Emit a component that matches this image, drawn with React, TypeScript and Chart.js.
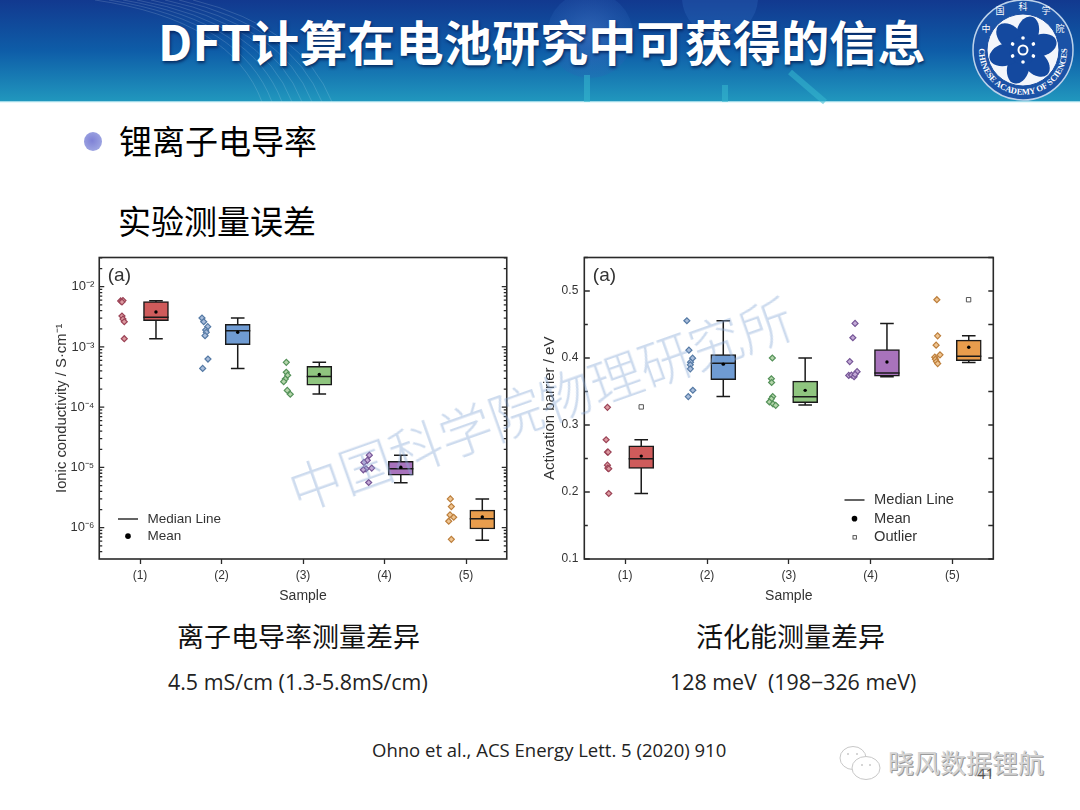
import React, { useEffect, useRef } from "react";
import { Chart, registerables } from "chart.js";

Chart.register(...registerables);

// ---------- data: ionic conductivity (S/cm) ----------
const sampleTicks = [1, 2, 3, 4, 5];
const sampleLabels = ["(1)", "(2)", "(3)", "(4)", "(5)"];
const boxPositions = [1.196, 2.199, 3.2, 4.2, 5.2];

const condQ1 = [2.73e-3, 1.09e-3, 2.31e-4, 7.45e-6, 9.5e-7];
const condQ3 = [5.64e-3, 2.37e-3, 4.77e-4, 1.26e-5, 1.95e-6];
const condMedian = [3.1e-3, 1.86e-3, 3.22e-4, 9.5e-6, 1.41e-6];
const condMean = [3.8e-3, 1.75e-3, 3.48e-4, 1.01e-5, 1.51e-6];
const condLow = [1.37e-3, 4.4e-4, 1.66e-4, 5.55e-6, 6.2e-7];
const condHigh = [5.86e-3, 3.02e-3, 5.56e-4, 1.6e-5, 3.0e-6];

const condRawX = [
  [0.763, 0.791, 0.779, 0.779, 0.791, 0.807, 0.807],
  [1.761, 1.782, 1.831, 1.806, 1.813, 1.798, 1.834, 1.769],
  [2.795, 2.795, 2.812, 2.783, 2.763, 2.807, 2.844],
  [3.814, 3.789, 3.748, 3.773, 3.74, 3.843, 3.806],
  [4.808, 4.82, 4.804, 4.849, 4.788, 4.82],
];
const condRawY = [
  [5.8e-3, 5.9e-3, 5.57e-3, 3.26e-3, 2.9e-3, 2.62e-3, 1.37e-3],
  [3.02e-3, 2.62e-3, 2.17e-3, 1.91e-3, 1.75e-3, 1.54e-3, 6.3e-4, 4.4e-4],
  [5.56e-4, 3.8e-4, 3.39e-4, 2.94e-4, 2.65e-4, 1.9e-4, 1.64e-4],
  [1.6e-5, 1.31e-5, 1.21e-5, 9.5e-6, 9.14e-6, 9.75e-6, 5.62e-6],
  [3.0e-6, 2.24e-6, 1.63e-6, 1.49e-6, 1.28e-6, 6.4e-7],
];
const condDecades = [-7, -6, -5, -4, -3, -2];
const condMantissas = [1, 2, 3, 4, 5, 6, 7, 8, 9];

// ---------- data: activation barrier (eV) ----------
const barrierQ1 = [0.2352, 0.3678, 0.3333, 0.373, 0.3961];
const barrierQ3 = [0.269, 0.4052, 0.3656, 0.4125, 0.4266];
const barrierMedian = [0.2496, 0.3923, 0.3422, 0.3775, 0.4026];
const barrierMean = [0.2536, 0.3908, 0.3517, 0.394, 0.416];
const barrierLow = [0.1978, 0.3424, 0.3298, 0.372, 0.3931];
const barrierHigh = [0.278, 0.4556, 0.4, 0.4516, 0.4331];
const barrierOutlierX = [1.196, 5.198];
const barrierOutlierY = [0.327, 0.487];

const barrierRawX = [
  [0.783, 0.767, 0.783, 0.791, 0.783, 0.787, 0.799, 0.799],
  [1.754, 1.779, 1.824, 1.799, 1.796, 1.796, 1.827, 1.771],
  [2.799, 2.787, 2.79, 2.803, 2.787, 2.763, 2.807, 2.84],
  [3.81, 3.783, 3.745, 3.835, 3.733, 3.766, 3.798, 3.81],
  [4.81, 4.819, 4.801, 4.848, 4.785, 4.793, 4.805, 4.82],
];
const barrierRawY = [
  [0.3264, 0.278, 0.2596, 0.2596, 0.24, 0.2357, 0.2347, 0.1978],
  [0.4556, 0.4117, 0.3998, 0.3938, 0.3898, 0.3838, 0.3519, 0.3424],
  [0.4, 0.369, 0.3634, 0.3424, 0.339, 0.3344, 0.3314, 0.3294],
  [0.4516, 0.4302, 0.3946, 0.3796, 0.374, 0.3746, 0.372, 0.3756],
  [0.487, 0.4331, 0.4192, 0.4047, 0.4012, 0.3982, 0.3947, 0.3917],
];
const barrierMajorTicks = [0.1, 0.2, 0.3, 0.4, 0.5];
const barrierMinorTicks = [0.15, 0.25, 0.35, 0.45, 0.55];

// ---------- text ----------
const titleText = "DFT计算在电池研究中可获得的信息";
const bulletText = "锂离子电导率";
const subHeadText = "实验测量误差";
const leftCaption = "离子电导率测量差异";
const leftValue = "4.5 mS/cm (1.3-5.8mS/cm)";
const rightCaption = "活化能测量差异";
const rightValue = "128 meV  (198−326 meV)";
const citation = "Ohno et al., ACS Energy Lett. 5 (2020) 910";
const watermark = "中国科学院物理研究所";
const wechatName = "晓风数据锂航";

// ---------- styles ----------
const boxColors = ["#cf5b5b", "#6f9bd2", "#8fc57f", "#a873bc", "#e89d4d"];
const dotFills = ["#dc9aa0", "#a9bddb", "#b5d6ab", "#c3aad6", "#efc592"];
const dotEdges = ["#9c4457", "#557aa5", "#55925a", "#755596", "#bd7f3c"];
const INK = "#1a1a1a";
const TEXT = "#333";
const FONT = '"Liberation Sans", Arial, sans-serif';
const CJK = '"Noto Sans CJK SC", sans-serif';
const LATIN = '"Open Sans", "Noto Sans", sans-serif';

const SUP: Record<string, string> = { "-": "⁻", "0": "⁰", "1": "¹", "2": "²", "3": "³", "4": "⁴", "5": "⁵", "6": "⁶" };

type Stats = { q1: number[]; q3: number[]; median: number[]; mean: number[]; low: number[]; high: number[]; rawX: number[][]; rawY: number[][]; };

function buildDatasets(s: Stats, outliers?: { x: number[]; y: number[] }) {
  const ds: any[] = [];
  boxPositions.forEach((x, i) => {
    ds.push({ type: "scatter", order: 9, data: s.rawX[i].map((px, j) => ({ x: px, y: s.rawY[i][j] })), pointStyle: "rectRot", pointRadius: 3, pointBackgroundColor: dotFills[i], pointBorderColor: dotEdges[i], pointBorderWidth: 1.2 });
    ds.push({ type: "line", order: 8, data: [{ x, y: s.low[i] }, { x, y: s.high[i] }], borderColor: INK, borderWidth: 1.5, pointRadius: 0, tension: 0 });
  });
  ds.push({ type: "bar", order: 5, data: boxPositions.map((x, i) => ({ x, y: [s.q1[i], s.q3[i]] })), backgroundColor: boxColors, borderColor: INK, borderWidth: 1.5, borderSkipped: false, barThickness: 25, grouped: false });
  const whisk = (vals: number[], r: number, order: number) => ({ type: "scatter", order, data: boxPositions.map((x, i) => ({ x, y: vals[i] })), pointStyle: "line", pointRadius: r, pointBorderColor: INK, pointBorderWidth: 1.5 });
  ds.push(whisk(s.low, 6.8, 4));
  ds.push(whisk(s.high, 6.8, 4));
  ds.push(whisk(s.median, 12.6, 3));
  ds.push({ type: "scatter", order: 2, data: boxPositions.map((x, i) => ({ x, y: s.mean[i] })), pointStyle: "circle", pointRadius: 1.7, pointBackgroundColor: "#000", pointBorderWidth: 0 });
  if (outliers) {
    ds.push({ type: "scatter", order: 2, data: outliers.x.map((x, i) => ({ x, y: outliers.y[i] })), pointStyle: "rect", pointRadius: 3.1, pointBackgroundColor: "#fff", pointBorderColor: "#444", pointBorderWidth: 0.9 });
  }
  return ds;
}

const framePlugin = (cfg: { majorLen: number; minorLen: number; isMajor: (v: number) => boolean; rightLen?: number; legendX: number; legendY: number; legendFont: number; outlier: boolean; }) => ({
  id: "frameAndNotes",
  afterDraw(chart: any) {
    const { ctx, chartArea: a, scales } = chart;
    ctx.save();
    ctx.strokeStyle = "#2a2a2a";
    ctx.lineWidth = 1.6;
    ctx.strokeRect(a.left, a.top, a.right - a.left, a.bottom - a.top);
    ctx.lineWidth = 1.3;
    ctx.beginPath();
    for (const t of scales.y.ticks) {
      const y = scales.y.getPixelForValue(t.value);
      if (y < a.top || y > a.bottom) continue;
      const len = cfg.isMajor(t.value) ? cfg.majorLen : cfg.minorLen;
      const rlen = cfg.rightLen ?? len;
      ctx.moveTo(a.left, y);
      ctx.lineTo(a.left + len, y);
      ctx.moveTo(a.right, y);
      ctx.lineTo(a.right - rlen, y);
    }
    ctx.stroke();
    ctx.fillStyle = TEXT;
    ctx.textBaseline = "middle";
    ctx.font = `19px ${FONT}`;
    ctx.fillText("(a)", a.left + 8.5, a.top + 18.5);
    // legend
    const { legendX: lx, legendY: ly, legendFont: lf } = cfg;
    const gap = lf * 1.27;
    ctx.font = `${lf}px ${FONT}`;
    ctx.strokeStyle = "#222";
    ctx.lineWidth = 1.4;
    ctx.beginPath();
    ctx.moveTo(lx, ly);
    ctx.lineTo(lx + 20, ly);
    ctx.stroke();
    ctx.fillText("Median Line", lx + 29.5, ly);
    ctx.fillStyle = "#000";
    ctx.beginPath();
    ctx.arc(lx + 10, ly + gap, 2.8, 0, Math.PI * 2);
    ctx.fill();
    ctx.fillStyle = TEXT;
    ctx.fillText("Mean", lx + 29.5, ly + gap);
    if (cfg.outlier) {
      ctx.strokeStyle = "#444";
      ctx.lineWidth = 0.9;
      ctx.strokeRect(lx + 8.5, ly + 2 * gap - 1.7, 3.4, 3.4);
      ctx.fillText("Outlier", lx + 29.5, ly + 2 * gap);
    }
    ctx.restore();
  },
});

function xScale() {
  return {
    type: "linear",
    offset: false,
    min: 0.5,
    max: 5.5,
    afterBuildTicks: (s: any) => { s.ticks = sampleTicks.map((value) => ({ value })); },
    grid: { drawOnChartArea: false, offset: false, drawTicks: true, tickLength: 5, tickWidth: 1.3, tickColor: "#2a2a2a" },
    border: { display: false },
    ticks: { color: TEXT, font: { family: FONT, size: 12 }, padding: 4, maxRotation: 0, autoSkip: false, callback: (v: number) => sampleLabels[sampleTicks.indexOf(v)] ?? "" },
    title: { display: true, text: "Sample", color: TEXT, font: { family: FONT, size: 14 }, padding: { top: 0, bottom: 5 } },
    afterFit: (s: any) => { s.height = 51; s.paddingLeft = 0; s.paddingRight = 0; },
  };
}

function useChart(make: (c: HTMLCanvasElement) => Chart) {
  const ref = useRef<HTMLCanvasElement>(null);
  useEffect(() => {
    const chart = make(ref.current!);
    return () => chart.destroy();
  }, []);
  return ref;
}

const isPowerOfTen = (v: number) => Math.abs(Math.log10(v) - Math.round(Math.log10(v))) < 1e-6;
const condMin = Math.pow(10, -6.52);
const condMax = Math.pow(10, -1.515);

function makeConductivity(canvas: HTMLCanvasElement) {
  return new Chart(canvas, {
    type: "bar",
    data: { datasets: buildDatasets({ q1: condQ1, q3: condQ3, median: condMedian, mean: condMean, low: condLow, high: condHigh, rawX: condRawX, rawY: condRawY }) as any },
    plugins: [framePlugin({ majorLen: 5, minorLen: 3, isMajor: isPowerOfTen, legendX: 78, legendY: 269, legendFont: 13.5, outlier: false })],
    options: {
      animation: false,
      responsive: false,
      devicePixelRatio: 1,
      layout: { autoPadding: false, padding: { left: 0, top: 7.5, right: 13.25, bottom: 0 } },
      plugins: { legend: { display: false }, tooltip: { enabled: false } },
      scales: {
        x: xScale(),
        y: {
          type: "logarithmic",
          min: condMin,
          max: condMax,
          afterBuildTicks: (s: any) => {
            s.ticks = condDecades
              .flatMap((e) => condMantissas.map((m) => m * Math.pow(10, e)))
              .filter((value) => value >= condMin && value <= condMax)
              .map((value) => ({ value }));
          },
          grid: { display: false, drawTicks: false },
          border: { display: false },
          ticks: {
            color: TEXT,
            font: { family: FONT, size: 13 },
            padding: 5,
            autoSkip: false,
            maxRotation: 0,
            callback: (v: number) => {
              if (!isPowerOfTen(v)) return "";
              const e = String(Math.round(Math.log10(v)));
              return "10" + e.split("").map((c) => SUP[c]).join("");
            },
          },
          title: { display: true, text: "Ionic conductivity / S·cm⁻¹", color: TEXT, font: { family: FONT, size: 14.8 }, padding: { top: 13, bottom: 0 } },
          afterFit: (s: any) => { s.width = 59.25; s.paddingTop = 0; s.paddingBottom = 0; },
        },
      } as any,
    },
  } as any);
}

function makeBarrier(canvas: HTMLCanvasElement) {
  return new Chart(canvas, {
    type: "bar",
    data: { datasets: buildDatasets({ q1: barrierQ1, q3: barrierQ3, median: barrierMedian, mean: barrierMean, low: barrierLow, high: barrierHigh, rawX: barrierRawX, rawY: barrierRawY }, { x: barrierOutlierX, y: barrierOutlierY }) as any },
    plugins: [framePlugin({ majorLen: 5.5, minorLen: 3.5, rightLen: 5, isMajor: (v) => barrierMajorTicks.some((m) => Math.abs(m - v) < 1e-6), legendX: 314.5, legendY: 250, legendFont: 14.7, outlier: true })],
    options: {
      animation: false,
      responsive: false,
      devicePixelRatio: 1,
      layout: { autoPadding: false, padding: { left: 0, top: 7.5, right: 16.7, bottom: 0 } },
      plugins: { legend: { display: false }, tooltip: { enabled: false } },
      scales: {
        x: xScale(),
        y: {
          type: "linear",
          min: 0.1,
          max: 0.55,
          afterBuildTicks: (s: any) => { s.ticks = [...barrierMajorTicks, ...barrierMinorTicks].sort((a, b) => a - b).map((value) => ({ value })); },
          grid: { display: false, drawTicks: false },
          border: { display: false },
          ticks: {
            color: TEXT,
            font: { family: FONT, size: 12 },
            padding: 6,
            autoSkip: false,
            maxRotation: 0,
            callback: (v: number) => (barrierMajorTicks.some((m) => Math.abs(m - v) < 1e-6) ? v.toFixed(1) : ""),
          },
          title: { display: true, text: "Activation barrier / eV", color: TEXT, font: { family: FONT, size: 15 }, padding: { top: 10.5, bottom: 0 } },
          afterFit: (s: any) => { s.width = 54.3; s.paddingTop = 0; s.paddingBottom = 0; },
        },
      } as any,
    },
  } as any);
}

function abs(left: number, top: number, extra: React.CSSProperties = {}): React.CSSProperties {
  return { position: "absolute", left, top, whiteSpace: "pre", lineHeight: 1, ...extra };
}

const fanEnds = [262, 272, 282, 292, 302, 312, 322, 332];

function Header() {
  const petals = [0, 60, 120, 180, 240, 300];
  return (
    <svg width={1080} height={110} style={{ position: "absolute", left: 0, top: 0 }}>
      <defs>
        <linearGradient id="hdr" x1="0" y1="0" x2="0" y2="1">
          <stop offset="0" stopColor="#12398f" />
          <stop offset="0.5" stopColor="#0e5da8" />
          <stop offset="1" stopColor="#2198be" />
        </linearGradient>
        <radialGradient id="orb" cx="0.5" cy="0.5" r="0.5">
          <stop offset="0" stopColor="#3f6fc0" stopOpacity="0.7" />
          <stop offset="1" stopColor="#2a62b5" stopOpacity="0.25" />
        </radialGradient>
        <path id="ringBottom" d="M 981.5 36 A 44 44 0 1 0 1064.5 36" fill="none" />
      </defs>
      <rect x={0} y={0} width={1080} height={102} fill="url(#hdr)" />
      <rect x={0} y={101} width={1080} height={1.5} fill="#bfeaf2" opacity={0.8} />
      <g stroke="#cfe6f5" strokeOpacity={0.22} fill="none" strokeWidth={0.8}>
        {fanEnds.map((e, i) => (
          <path key={e} d={`M ${95 + i * 14} 0 Q ${e - 30} ${20 + i} ${e} 102`} />
        ))}
      </g>
      <circle cx={590} cy={35} r={43} fill="url(#orb)" />
      <circle cx={720} cy={-2} r={38} fill="#2f66bb" opacity={0.35} />
      <g stroke="#37b8cf" strokeOpacity={0.55} strokeWidth={6}>
        <path d="M 587 75 L 587 102" />
        <path d="M 790 72 L 825 102" />
        <path d="M 725 85 L 725 102" />
      </g>
      <circle cx={1023} cy={50} r={50} fill="#1a52a6" stroke="#bcd2ea" strokeWidth={1.5} />
      <circle cx={1023} cy={50} r={36} fill="#f3f6fb" stroke="#1a4fa2" strokeWidth={1} />
      {petals.map((a) => (
        <ellipse key={a} cx={1023} cy={32} rx={11} ry={16.5} fill="#14499f" transform={`rotate(${a + 15} 1023 50)`} />
      ))}
      <circle cx={1023} cy={50} r={14} fill="#14499f" />
      <circle cx={1023} cy={50} r={4.5} fill="none" stroke="#fff" strokeWidth={2} />
      {petals.map((a) => (
        <circle key={a} cx={1023} cy={38} r={1.8} fill="#fff" transform={`rotate(${a} 1023 50)`} />
      ))}
      <text fontFamily={'"Liberation Serif", serif'} fontSize={8.5} fontWeight={700} fill="#fff">
        <textPath href="#ringBottom" startOffset="50%" textAnchor="middle">CHINESE ACADEMY OF SCIENCES</textPath>
      </text>
      <g fontFamily={CJK} fontSize={9} fill="#fff" textAnchor="middle">
        <text x={986} y={32}>中</text>
        <text x={1000} y={14}>国</text>
        <text x={1023} y={10}>科</text>
        <text x={1046} y={14}>学</text>
        <text x={1060} y={32}>院</text>
      </g>
    </svg>
  );
}

export default function App() {
  const leftRef = useChart(makeConductivity);
  const rightRef = useChart(makeBarrier);
  return (
    <div style={{ position: "fixed", left: 0, top: 0, width: 1080, height: 810, overflow: "hidden", background: "#fff" }}>
      <Header />
      <div style={abs(158, 16, { fontFamily: CJK, fontWeight: 700, fontSize: 48, color: "#fff", letterSpacing: 0.2, textShadow: "1px 2px 3px rgba(0,20,70,0.7)" })}>{titleText}</div>
      <div style={{ position: "absolute", left: 84, top: 132, width: 18, height: 19, borderRadius: "50%", background: "radial-gradient(circle at 45% 45%, #7f82d6, #a9b2e6)" }} />
      <div style={abs(119, 124, { fontFamily: CJK, fontSize: 33, color: "#000" })}>{bulletText}</div>
      <div style={abs(118, 204, { fontFamily: CJK, fontSize: 33, color: "#000" })}>{subHeadText}</div>

      <canvas ref={leftRef} width={480} height={360} style={{ position: "absolute", left: 40, top: 250, width: 480, height: 360 }} />
      <canvas ref={rightRef} width={480} height={360} style={{ position: "absolute", left: 530, top: 250, width: 480, height: 360 }} />

      <div style={abs(177, 622, { fontFamily: CJK, fontSize: 27, color: "#111" })}>{leftCaption}</div>
      <div style={abs(168, 671, { fontFamily: LATIN, fontSize: 21.4, color: "#222" })}>{leftValue}</div>
      <div style={abs(696, 622, { fontFamily: CJK, fontSize: 27, color: "#111" })}>{rightCaption}</div>
      <div style={abs(670, 671, { fontFamily: LATIN, fontSize: 21.4, color: "#222" })}>{rightValue}</div>
      <div style={abs(372, 741, { fontFamily: LATIN, fontSize: 18.5, color: "#222" })}>{citation}</div>

      <div style={abs(275, 375.5, { width: 530, fontFamily: CJK, fontWeight: 300, fontSize: 53, color: "rgba(135,170,215,0.42)", transform: "rotate(-19.5deg)", transformOrigin: "50% 50%" })}>{watermark}</div>

      <svg width={50} height={42} style={{ position: "absolute", left: 836, top: 743 }}>
        <g fill="#fff" stroke="#c8c8c8" strokeWidth={1}>
          <ellipse cx={17} cy={15} rx={13} ry={11.5} />
          <ellipse cx={30} cy={25} rx={14} ry={11.5} />
        </g>
        <g fill="#c8c8c8">
          <circle cx={12} cy={11} r={1} />
          <circle cx={21} cy={11} r={1} />
          <circle cx={26} cy={22} r={1} />
          <circle cx={34} cy={22} r={1} />
        </g>
      </svg>
      <div style={abs(888, 749, { fontFamily: CJK, fontSize: 26, color: "#d4d4d4", textShadow: "1px 1px 0 #9a9a9a" })}>{wechatName}</div>
      <div style={abs(977, 766, { fontFamily: LATIN, fontSize: 15, color: "#555" })}>41</div>
    </div>
  );
}
